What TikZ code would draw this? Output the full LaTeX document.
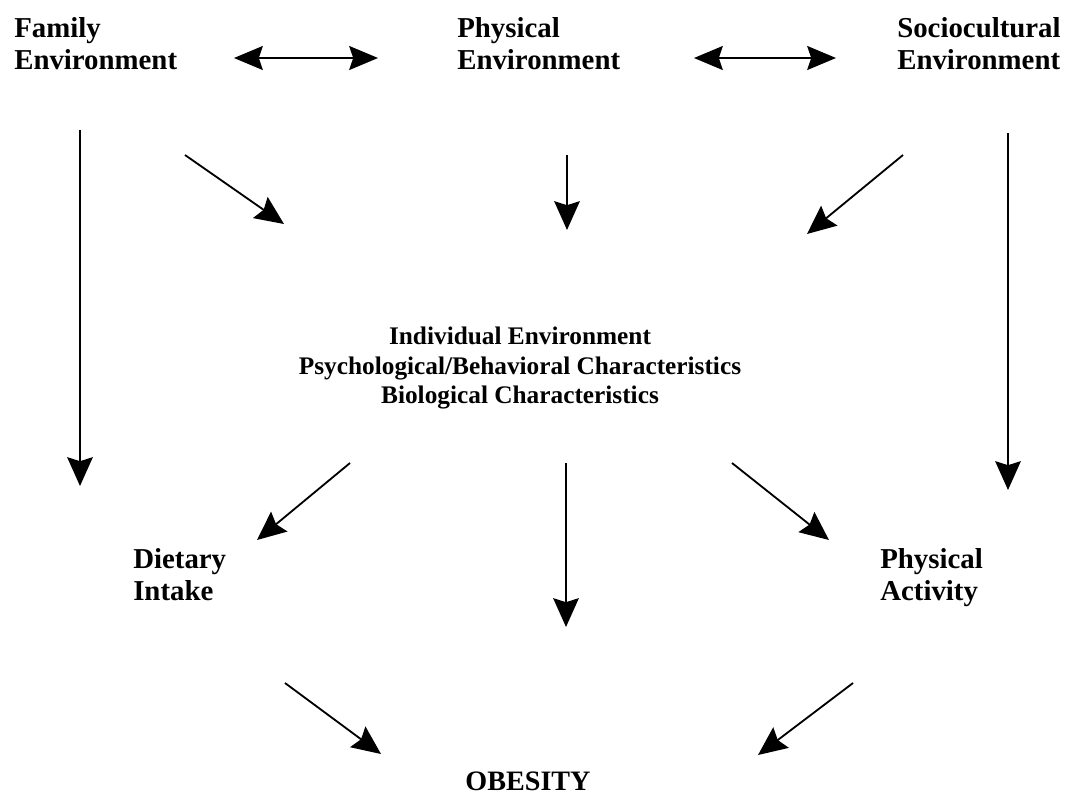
\documentclass[tikz,border=0pt]{standalone}
\usepackage{fontspec}
\setmainfont{Liberation Serif}
\usetikzlibrary{arrows.meta, positioning}

\tikzset{
  Lbl/.style={font=\bfseries\fontsize{20.5}{23}\selectfont, align=left, inner sep=0pt},
  CLbl/.style={font=\bfseries\fontsize{18}{21}\selectfont, align=center, inner sep=0pt},
  Flow/.style={-{Stealth[length=0.72cm, width=0.64cm, inset=0.1cm]}, line width=1.3pt},
  Both/.style={{Stealth[length=0.72cm, width=0.6cm, inset=0.1cm]}-{Stealth[length=0.72cm, width=0.6cm, inset=0.1cm]}, line width=1.3pt}
}

\begin{document}
\begin{tikzpicture}[x=0.025cm, y=-0.025cm]
    \useasboundingbox (0,0) rectangle (1077,796);

    % --- Environments (top row) ---
    \node[Lbl, anchor=north west] (Family) at (14,17) {Family\\Environment};
    \node[Lbl, anchor=north west] (Physical) at (457,17) {Physical\\Environment};
    \node[Lbl, anchor=north west] (Socio) at (897,17) {Sociocultural\\Environment};

    % --- Individual level ---
    \node[CLbl, anchor=north] (Indiv) at (520,327) {Individual Environment\\Psychological/Behavioral Characteristics\\Biological Characteristics};

    % --- Behaviours ---
    \node[Lbl, anchor=north west] (Diet) at (133,548) {Dietary\\Intake};
    \node[Lbl, anchor=north west] (Activity) at (880,548) {Physical\\Activity};

    % --- Outcome ---
    \node[CLbl, font=\bfseries\fontsize{20}{23}\selectfont, anchor=base] (Obesity) at (528,790) {OBESITY};

    % --- Arrow ends ---
    \coordinate (FamPhyL) at (234,58);  \coordinate (FamPhyR) at (378,58);
    \coordinate (PhySocL) at (694,58);  \coordinate (PhySocR) at (836,58);
    \coordinate (FamDownA) at (80,130); \coordinate (FamDownB) at (80,486);
    \coordinate (FamDiagA) at (185,155); \coordinate (FamDiagB) at (284,224);
    \coordinate (PhyDownA) at (567,155); \coordinate (PhyDownB) at (567,230);
    \coordinate (SocDiagA) at (903,155); \coordinate (SocDiagB) at (807,234);
    \coordinate (SocDownA) at (1008,133); \coordinate (SocDownB) at (1008,490);
    \coordinate (IndDietA) at (350,463); \coordinate (IndDietB) at (257,540);
    \coordinate (IndObeA) at (566,463); \coordinate (IndObeB) at (566,627);
    \coordinate (IndActA) at (732,463); \coordinate (IndActB) at (829,540);
    \coordinate (DietObeA) at (285,683); \coordinate (DietObeB) at (381,754);
    \coordinate (ActObeA) at (853,683); \coordinate (ActObeB) at (758,755);

    % --- Connectors ---
    \draw[Both] (FamPhyL) -- (FamPhyR);
    \draw[Both] (PhySocL) -- (PhySocR);
    \draw[Flow] (FamDownA) -- (FamDownB);
    \draw[Flow] (FamDiagA) -- (FamDiagB);
    \draw[Flow] (PhyDownA) -- (PhyDownB);
    \draw[Flow] (SocDiagA) -- (SocDiagB);
    \draw[Flow] (SocDownA) -- (SocDownB);
    \draw[Flow] (IndDietA) -- (IndDietB);
    \draw[Flow] (IndObeA) -- (IndObeB);
    \draw[Flow] (IndActA) -- (IndActB);
    \draw[Flow] (DietObeA) -- (DietObeB);
    \draw[Flow] (ActObeA) -- (ActObeB);
\end{tikzpicture}
\end{document}
